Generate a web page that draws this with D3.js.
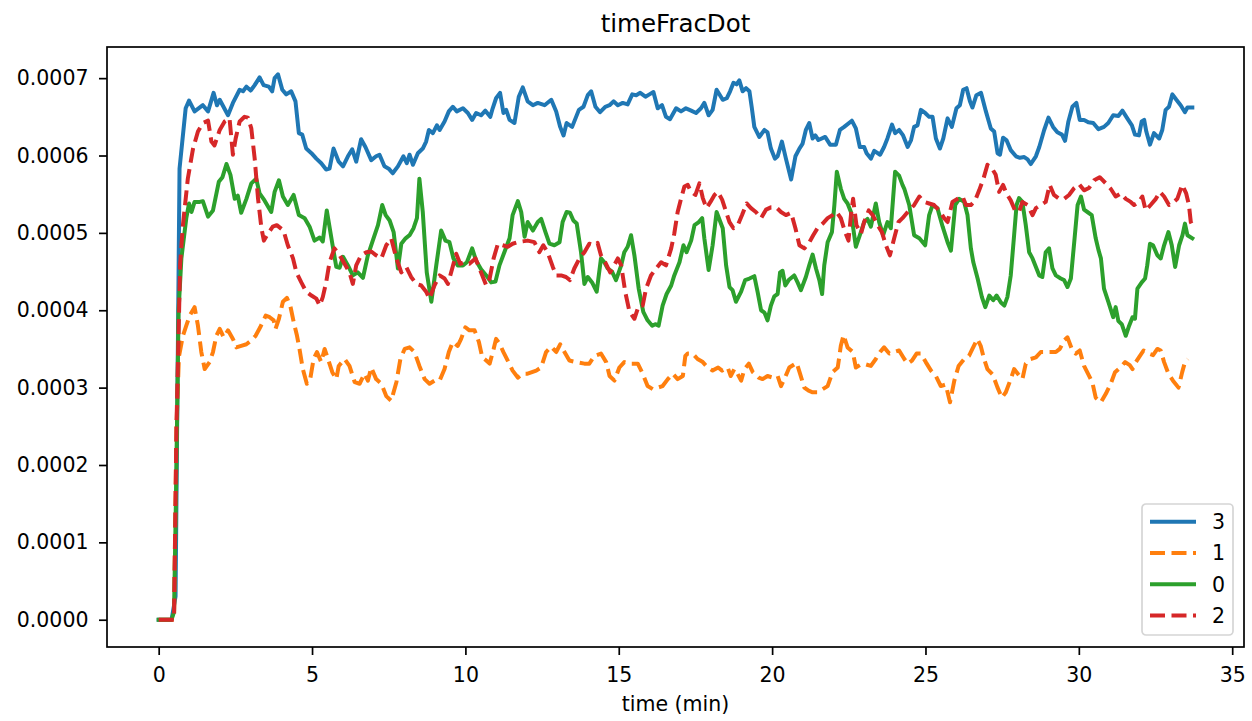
<!DOCTYPE html>
<html>
<head>
<meta charset="utf-8">
<script src="https://cdn.jsdelivr.net/npm/d3@7"></script>
<style>
  body { margin: 0; background: #ffffff; }
  svg { display: block; font-family: "DejaVu Sans", sans-serif; }
</style>
</head>
<body>
<div id="chart"></div>
<script>
// valeurs y en unités de 1e-4, temps en minutes
const UNIT = 1e-4;

const series3 = [[0,0],[0.42,0],[0.55,0.3],[0.68,5.83],[0.88,6.61],[0.99,6.71],[1.17,6.57],[1.44,6.65],[1.61,6.57],[1.79,6.81],[1.9,6.65],[1.99,6.72],[2.26,6.52],[2.42,6.68],[2.64,6.85],[2.75,6.83],[2.86,6.89],[3.0,6.84],[3.13,6.91],[3.29,7.01],[3.42,6.91],[3.59,6.89],[3.7,6.83],[3.78,7.0],[3.89,7.05],[4.03,6.85],[4.16,6.79],[4.32,6.83],[4.46,6.7],[4.57,6.29],[4.68,6.27],[4.81,6.09],[4.98,6.03],[5.14,5.96],[5.3,5.9],[5.46,5.82],[5.57,5.83],[5.7,6.09],[5.87,5.92],[6.01,5.86],[6.17,5.99],[6.31,6.08],[6.44,5.92],[6.6,6.21],[6.74,6.11],[6.93,5.94],[7.09,5.99],[7.2,6.01],[7.36,5.86],[7.5,5.83],[7.63,5.77],[7.8,5.86],[7.98,5.99],[8.09,5.9],[8.18,6.01],[8.29,5.88],[8.45,6.03],[8.61,6.09],[8.72,6.18],[8.81,6.33],[8.94,6.29],[9.07,6.39],[9.16,6.33],[9.32,6.44],[9.46,6.57],[9.59,6.63],[9.72,6.57],[9.92,6.61],[10.08,6.55],[10.22,6.46],[10.35,6.55],[10.51,6.52],[10.65,6.58],[10.81,6.5],[10.89,6.61],[11.0,6.74],[11.13,6.81],[11.24,6.55],[11.33,6.59],[11.44,6.46],[11.6,6.42],[11.74,6.76],[11.87,6.88],[12.03,6.7],[12.2,6.65],[12.36,6.68],[12.58,6.65],[12.8,6.72],[12.96,6.57],[13.09,6.37],[13.2,6.26],[13.3,6.42],[13.48,6.37],[13.7,6.59],[13.85,6.63],[13.99,6.78],[14.1,6.83],[14.24,6.63],[14.39,6.56],[14.56,6.63],[14.7,6.65],[14.83,6.7],[14.97,6.65],[15.13,6.68],[15.29,6.66],[15.44,6.79],[15.57,6.78],[15.7,6.81],[15.87,6.76],[16.0,6.79],[16.13,6.82],[16.27,6.61],[16.41,6.65],[16.54,6.5],[16.67,6.47],[16.87,6.61],[17.03,6.57],[17.19,6.61],[17.36,6.58],[17.52,6.55],[17.68,6.61],[17.79,6.68],[17.93,6.52],[18.06,6.59],[18.19,6.85],[18.39,6.72],[18.52,6.74],[18.63,6.83],[18.74,6.94],[18.84,6.92],[18.93,6.97],[19.04,6.83],[19.15,6.87],[19.26,6.83],[19.34,6.61],[19.42,6.37],[19.58,6.24],[19.75,6.33],[19.85,6.3],[19.96,6.09],[20.09,5.96],[20.18,5.99],[20.32,6.18],[20.45,5.96],[20.62,5.69],[20.76,5.99],[20.89,6.09],[20.99,6.15],[21.1,6.33],[21.21,6.42],[21.32,6.22],[21.41,6.26],[21.51,6.2],[21.73,6.24],[21.89,6.14],[22.08,6.14],[22.21,6.33],[22.35,6.37],[22.6,6.45],[22.73,6.35],[22.86,6.11],[23.0,6.11],[23.08,6.03],[23.22,5.96],[23.33,6.06],[23.52,6.01],[23.65,6.11],[23.76,6.22],[23.91,6.4],[24.01,6.29],[24.14,6.33],[24.27,6.26],[24.42,6.11],[24.53,6.2],[24.63,6.37],[24.74,6.39],[24.85,6.59],[24.99,6.55],[25.12,6.5],[25.23,6.5],[25.34,6.22],[25.47,6.09],[25.58,6.22],[25.72,6.48],[25.86,6.37],[26.01,6.61],[26.12,6.65],[26.23,6.85],[26.34,6.87],[26.45,6.7],[26.53,6.62],[26.66,6.78],[26.81,6.81],[26.97,6.57],[27.13,6.35],[27.24,6.31],[27.35,6.03],[27.43,6.01],[27.53,6.23],[27.64,6.2],[27.78,6.07],[27.95,5.99],[28.08,5.97],[28.22,5.98],[28.33,5.95],[28.43,5.89],[28.6,5.99],[28.71,6.11],[28.87,6.33],[29.01,6.49],[29.16,6.37],[29.3,6.3],[29.45,6.27],[29.55,6.19],[29.66,6.44],[29.79,6.63],[29.92,6.68],[30.03,6.46],[30.17,6.46],[30.31,6.43],[30.47,6.42],[30.64,6.34],[30.82,6.37],[30.96,6.42],[31.12,6.52],[31.29,6.51],[31.42,6.58],[31.58,6.48],[31.73,6.39],[31.83,6.27],[31.96,6.26],[32.05,6.44],[32.13,6.46],[32.2,6.31],[32.32,6.14],[32.45,6.29],[32.62,6.22],[32.72,6.33],[32.83,6.59],[32.94,6.63],[33.05,6.79],[33.18,6.72],[33.32,6.65],[33.46,6.56],[33.54,6.62],[33.7,6.62]];

const series1 = [[0,0],[0.5,0],[0.58,2.5],[0.66,3.4],[0.79,3.67],[0.9,3.8],[1.01,3.93],[1.17,4.04],[1.28,3.8],[1.39,3.46],[1.5,3.24],[1.66,3.33],[1.77,3.46],[1.88,3.67],[1.99,3.76],[2.12,3.65],[2.26,3.74],[2.42,3.63],[2.53,3.52],[2.69,3.54],[2.86,3.56],[3.02,3.61],[3.16,3.67],[3.31,3.78],[3.49,3.93],[3.62,3.91],[3.75,3.87],[3.81,3.76],[3.92,3.89],[4.05,4.11],[4.18,4.16],[4.29,4.06],[4.4,3.85],[4.51,3.67],[4.59,3.5],[4.7,3.24],[4.83,3.05],[4.94,3.11],[5.05,3.37],[5.16,3.46],[5.3,3.33],[5.41,3.5],[5.52,3.37],[5.66,3.2],[5.79,3.11],[5.87,3.28],[6.06,3.37],[6.22,3.28],[6.39,3.07],[6.55,3.05],[6.71,3.18],[6.82,3.09],[6.93,3.26],[7.09,3.11],[7.26,3.05],[7.42,2.89],[7.58,2.83],[7.75,3.07],[7.88,3.37],[8.02,3.5],[8.18,3.52],[8.34,3.46],[8.5,3.28],[8.67,3.11],[8.83,3.05],[8.99,3.09],[9.16,3.09],[9.32,3.24],[9.46,3.46],[9.59,3.59],[9.75,3.54],[9.86,3.63],[10.0,3.78],[10.13,3.74],[10.3,3.74],[10.44,3.59],[10.55,3.39],[10.68,3.35],[10.79,3.31],[10.92,3.5],[11.0,3.63],[11.11,3.57],[11.24,3.46],[11.38,3.35],[11.54,3.22],[11.71,3.13],[11.87,3.18],[12.03,3.18],[12.31,3.22],[12.47,3.26],[12.63,3.46],[12.8,3.53],[12.96,3.46],[13.09,3.56],[13.23,3.46],[13.39,3.35],[13.61,3.33],[13.88,3.31],[14.04,3.31],[14.21,3.41],[14.42,3.44],[14.59,3.33],[14.7,3.15],[14.86,3.09],[15.02,3.26],[15.18,3.33],[15.35,3.31],[15.62,3.31],[15.78,3.18],[15.94,3.02],[16.11,2.98],[16.27,3.0],[16.43,3.02],[16.6,3.11],[16.76,3.18],[16.92,3.11],[17.09,3.15],[17.17,3.41],[17.25,3.44],[17.41,3.44],[17.57,3.37],[17.74,3.33],[17.9,3.26],[18.06,3.22],[18.24,3.26],[18.37,3.22],[18.55,3.26],[18.65,3.15],[18.77,3.24],[18.87,3.18],[18.99,3.09],[19.1,3.24],[19.24,3.31],[19.37,3.2],[19.56,3.13],[19.69,3.11],[19.85,3.15],[20.02,3.13],[20.18,3.15],[20.29,3.02],[20.4,3.11],[20.56,3.26],[20.8,3.32],[20.91,3.18],[21.05,3.0],[21.19,2.96],[21.32,2.94],[21.48,2.94],[21.65,2.98],[21.81,3.02],[21.97,3.2],[22.14,3.26],[22.24,3.54],[22.33,3.68],[22.46,3.52],[22.63,3.46],[22.73,3.26],[22.9,3.3],[23.06,3.3],[23.22,3.28],[23.38,3.37],[23.52,3.46],[23.65,3.52],[23.82,3.44],[23.98,3.46],[24.14,3.48],[24.31,3.37],[24.42,3.31],[24.56,3.35],[24.71,3.44],[24.85,3.44],[25.01,3.33],[25.18,3.22],[25.34,3.15],[25.5,3.02],[25.66,3.04],[25.8,2.81],[25.94,3.09],[26.08,3.28],[26.26,3.37],[26.42,3.41],[26.53,3.5],[26.69,3.63],[26.8,3.54],[26.91,3.37],[27.02,3.24],[27.19,3.17],[27.35,3.0],[27.49,2.87],[27.62,2.94],[27.78,3.11],[27.89,3.24],[28.03,3.17],[28.16,3.11],[28.27,3.31],[28.43,3.37],[28.6,3.39],[28.76,3.46],[28.92,3.46],[29.09,3.46],[29.25,3.46],[29.38,3.5],[29.52,3.61],[29.63,3.65],[29.77,3.5],[29.9,3.44],[30.03,3.48],[30.17,3.28],[30.31,3.17],[30.44,3.07],[30.55,2.87],[30.72,2.81],[30.88,2.92],[31.04,3.05],[31.18,3.2],[31.35,3.26],[31.51,3.33],[31.66,3.29],[31.75,3.24],[31.86,3.33],[31.96,3.39],[32.11,3.48],[32.27,3.44],[32.42,3.42],[32.56,3.5],[32.67,3.48],[32.78,3.33],[32.92,3.18],[33.07,3.09],[33.25,3.0],[33.37,3.2],[33.46,3.33],[33.55,3.37]];

const series0 = [[0,0],[0.42,0],[0.5,0.1],[0.56,1.5],[0.65,4.0],[0.74,4.67],[0.9,5.19],[0.99,5.38],[1.07,5.27],[1.17,5.4],[1.34,5.4],[1.44,5.41],[1.61,5.21],[1.77,5.29],[1.96,5.66],[2.08,5.72],[2.21,5.89],[2.34,5.75],[2.48,5.44],[2.58,5.48],[2.69,5.26],[2.86,5.44],[3.02,5.64],[3.18,5.7],[3.29,5.51],[3.45,5.42],[3.67,5.27],[3.78,5.53],[3.92,5.68],[4.05,5.47],[4.21,5.36],[4.4,5.49],[4.57,5.23],[4.76,5.19],[4.92,5.08],[5.08,4.9],[5.25,4.94],[5.35,4.89],[5.48,5.29],[5.67,4.84],[5.79,4.56],[5.9,4.55],[6.01,4.69],[6.17,4.58],[6.33,4.45],[6.49,4.49],[6.66,4.42],[6.82,4.71],[6.98,4.9],[7.15,5.1],[7.29,5.36],[7.4,5.23],[7.53,5.16],[7.66,5.01],[7.8,4.54],[7.91,4.86],[8.05,4.93],[8.18,4.97],[8.31,5.06],[8.42,5.19],[8.5,5.7],[8.61,5.27],[8.74,4.49],[8.89,4.11],[9.05,4.58],[9.21,5.03],[9.35,4.9],[9.48,4.88],[9.61,4.67],[9.75,4.58],[9.92,4.58],[10.05,4.62],[10.22,4.8],[10.35,4.64],[10.51,4.53],[10.68,4.45],[10.84,4.36],[10.98,4.37],[11.11,4.58],[11.27,4.75],[11.44,4.93],[11.54,5.23],[11.71,5.41],[11.82,5.27],[11.93,4.95],[12.03,5.14],[12.2,5.03],[12.36,5.14],[12.47,5.18],[12.61,5.01],[12.74,4.86],[12.9,4.84],[13.07,4.88],[13.17,5.14],[13.3,5.27],[13.41,5.26],[13.52,5.16],[13.63,5.12],[13.77,4.75],[13.88,4.34],[13.99,4.43],[14.13,4.36],[14.28,4.24],[14.42,4.67],[14.53,4.62],[14.64,4.54],[14.78,4.5],[14.91,4.39],[15.08,4.58],[15.18,4.75],[15.29,4.82],[15.4,4.97],[15.51,4.71],[15.65,4.28],[15.8,3.98],[15.94,3.87],[16.09,3.8],[16.19,3.82],[16.3,3.8],[16.43,4.06],[16.56,4.21],[16.71,4.32],[16.81,4.45],[16.98,4.62],[17.11,4.84],[17.21,4.75],[17.36,4.9],[17.47,5.1],[17.61,5.14],[17.72,5.19],[17.79,4.93],[17.93,4.52],[18.06,4.84],[18.19,5.27],[18.39,5.06],[18.5,4.58],[18.61,4.3],[18.71,4.26],[18.82,4.11],[18.99,4.24],[19.12,4.39],[19.26,4.41],[19.42,4.44],[19.53,4.23],[19.64,4.0],[19.75,3.97],[19.85,3.87],[19.96,4.06],[20.07,4.18],[20.18,4.21],[20.26,4.49],[20.34,4.51],[20.43,4.32],[20.54,4.39],[20.72,4.45],[20.83,4.36],[20.94,4.26],[21.1,4.43],[21.21,4.58],[21.32,4.72],[21.43,4.54],[21.54,4.39],[21.63,4.21],[21.7,4.58],[21.81,4.88],[21.95,5.01],[22.03,5.36],[22.11,5.79],[22.24,5.57],[22.35,5.44],[22.46,5.38],[22.57,5.27],[22.73,4.82],[22.86,4.97],[23.0,5.14],[23.11,5.18],[23.22,5.08],[23.38,5.38],[23.49,5.14],[23.62,4.97],[23.76,5.14],[23.87,5.06],[24.01,5.79],[24.14,5.74],[24.25,5.62],[24.31,5.57],[24.47,5.36],[24.63,4.97],[24.8,4.93],[24.99,4.84],[25.12,5.23],[25.23,5.36],[25.39,5.32],[25.56,5.08],[25.72,4.88],[25.83,4.77],[25.97,5.36],[26.1,5.44],[26.26,5.4],[26.37,5.23],[26.48,4.8],[26.56,4.62],[26.7,4.41],[26.84,4.17],[26.95,4.04],[27.08,4.19],[27.21,4.13],[27.32,4.19],[27.46,4.1],[27.57,4.06],[27.67,4.17],[27.78,4.45],[27.89,4.97],[27.97,5.36],[28.05,5.45],[28.16,5.4],[28.27,5.1],[28.38,4.75],[28.49,4.67],[28.6,4.56],[28.71,4.45],[28.81,4.43],[28.92,4.75],[29.03,4.8],[29.14,4.54],[29.25,4.45],[29.41,4.41],[29.52,4.39],[29.63,4.3],[29.74,4.41],[29.85,4.88],[29.96,5.36],[30.07,5.47],[30.17,5.3],[30.28,5.27],[30.42,5.23],[30.55,4.93],[30.64,4.78],[30.72,4.67],[30.82,4.28],[30.96,4.11],[31.12,3.91],[31.2,4.04],[31.29,3.86],[31.4,3.82],[31.53,3.67],[31.64,3.8],[31.75,3.91],[31.83,3.89],[31.91,4.28],[32.05,4.36],[32.16,4.41],[32.23,4.58],[32.32,4.86],[32.42,4.84],[32.56,4.71],[32.67,4.67],[32.78,4.84],[32.92,5.01],[33.03,4.84],[33.14,4.56],[33.27,4.84],[33.38,4.97],[33.46,5.12],[33.54,4.97],[33.7,4.93]];

const series2 = [[0,0],[0.5,0],[0.58,2.5],[0.7,4.6],[0.79,5.1],[0.95,5.7],[1.12,6.09],[1.28,6.31],[1.44,6.42],[1.61,6.45],[1.72,6.18],[1.82,6.13],[1.99,6.33],[2.15,6.44],[2.31,6.48],[2.42,6.01],[2.51,6.22],[2.64,6.44],[2.8,6.5],[2.91,6.49],[3.02,6.35],[3.13,5.96],[3.24,5.44],[3.35,5.06],[3.43,4.9],[3.56,4.99],[3.72,5.08],[3.85,5.1],[4.07,5.03],[4.21,4.84],[4.38,4.67],[4.49,4.49],[4.65,4.36],[4.81,4.24],[4.98,4.19],[5.14,4.15],[5.25,4.06],[5.35,4.17],[5.46,4.36],[5.57,4.62],[5.73,4.8],[5.9,4.71],[6.06,4.6],[6.22,4.49],[6.33,4.34],[6.44,4.58],[6.6,4.71],[6.77,4.75],[6.93,4.76],[7.09,4.71],[7.26,4.67],[7.42,4.84],[7.58,4.93],[7.75,4.67],[7.91,4.49],[8.07,4.56],[8.23,4.43],[8.4,4.34],[8.56,4.32],[8.72,4.24],[8.83,4.15],[8.99,4.32],[9.16,4.45],[9.32,4.41],[9.43,4.34],[9.57,4.54],[9.7,4.73],[9.83,4.6],[9.97,4.62],[10.13,4.6],[10.33,4.67],[10.46,4.54],[10.68,4.32],[10.79,4.41],[10.92,4.67],[11.06,4.86],[11.22,4.84],[11.38,4.82],[11.54,4.86],[11.71,4.88],[11.87,4.89],[12.03,4.9],[12.25,4.88],[12.41,4.75],[12.54,4.84],[12.68,4.75],[12.85,4.56],[12.96,4.45],[13.12,4.45],[13.28,4.43],[13.41,4.39],[13.55,4.54],[13.72,4.67],[13.88,4.75],[14.04,4.86],[14.21,4.84],[14.31,4.87],[14.42,4.71],[14.56,4.62],[14.72,4.49],[14.85,4.58],[14.97,4.67],[15.08,4.58],[15.21,4.24],[15.35,3.98],[15.51,3.89],[15.65,4.06],[15.78,4.06],[15.89,4.28],[16.05,4.45],[16.22,4.54],[16.38,4.62],[16.54,4.58],[16.71,4.8],[16.81,4.99],[16.92,5.27],[17.03,5.44],[17.14,5.6],[17.25,5.62],[17.36,5.53],[17.5,5.49],[17.63,5.64],[17.74,5.45],[17.86,5.32],[17.99,5.4],[18.12,5.49],[18.23,5.53],[18.37,5.43],[18.5,5.27],[18.61,5.14],[18.74,5.06],[18.88,5.1],[19.02,5.23],[19.17,5.38],[19.31,5.32],[19.47,5.27],[19.64,5.19],[19.8,5.3],[19.96,5.33],[20.13,5.33],[20.29,5.27],[20.45,5.23],[20.62,5.26],[20.76,5.06],[20.89,4.84],[21.05,4.8],[21.19,4.86],[21.34,4.97],[21.48,5.06],[21.65,5.12],[21.81,5.19],[21.97,5.23],[22.1,5.27],[22.24,5.19],[22.38,5.01],[22.49,4.9],[22.57,5.23],[22.64,5.44],[22.75,5.1],[22.9,4.99],[23.0,5.14],[23.15,5.29],[23.28,5.23],[23.44,5.1],[23.58,5.01],[23.71,4.84],[23.84,4.71],[23.98,4.93],[24.12,5.14],[24.25,5.19],[24.42,5.27],[24.63,5.36],[24.8,5.47],[24.96,5.4],[25.12,5.38],[25.28,5.36],[25.45,5.29],[25.61,5.19],[25.72,5.14],[25.88,5.4],[26.04,5.44],[26.21,5.47],[26.32,5.36],[26.48,5.36],[26.62,5.42],[26.75,5.55],[26.89,5.7],[27.02,5.88],[27.16,5.84],[27.29,5.75],[27.4,5.53],[27.53,5.62],[27.64,5.51],[27.78,5.42],[27.92,5.29],[28.05,5.27],[28.16,5.4],[28.33,5.36],[28.49,5.23],[28.6,5.32],[28.76,5.36],[28.92,5.4],[29.05,5.62],[29.19,5.49],[29.36,5.44],[29.52,5.44],[29.68,5.49],[29.85,5.58],[30.01,5.63],[30.17,5.55],[30.33,5.58],[30.5,5.68],[30.68,5.72],[30.88,5.64],[31.04,5.57],[31.2,5.47],[31.37,5.51],[31.53,5.44],[31.69,5.4],[31.8,5.36],[31.96,5.4],[32.07,5.47],[32.18,5.29],[32.34,5.36],[32.51,5.44],[32.64,5.53],[32.78,5.47],[32.94,5.36],[33.1,5.4],[33.21,5.44],[33.37,5.62],[33.5,5.51],[33.59,5.36],[33.65,5.14],[33.7,5.1]];

// ordre de tracé = ordre de la légende
const seriesNames = ["3", "1", "0", "2"];
const seriesData = [series3, series1, series0, series2];
const seriesColors = ["#1f77b4", "#ff7f0e", "#2ca02c", "#d62728"];
const seriesDashed = [false, true, false, true];

const xTicks = [0, 5, 10, 15, 20, 25, 30, 35];
const yTicks = [0, 0.0001, 0.0002, 0.0003, 0.0004, 0.0005, 0.0006, 0.0007];

const graphCfg = {
  target: "#chart",
  title: "timeFracDot",
  xLabel: "time (min)",
  width: 1252,
  height: 721,
  margin: { top: 47, right: 8, bottom: 74, left: 107 },
  fontSize: 20.5,
  lineWidth: 4,
  dash: "15,6.5",
}

//---------------------------------------------------------------------------------------

// Création du canevas SVG

const width = graphCfg.width;
const height = graphCfg.height;
const m = graphCfg.margin;

const svg = d3
  .select(graphCfg.target)
  .append("svg")
  .attr("width", width)
  .attr("height", height)
  .attr("viewBox", [0, 0, width, height]);

svg.append("rect")
  .attr("width", width)
  .attr("height", height)
  .attr("fill", "#ffffff");

//---------------------------------------------------------------------------------------

// Échelles (marges de 5 % comme matplotlib)

const allPts = seriesData.flat();
const xExt = d3.extent(allPts, d => d[0]);
const yExt = d3.extent(allPts, d => d[1] * UNIT);
const xPad = (xExt[1] - xExt[0]) * 0.05;
const yPad = (yExt[1] - yExt[0]) * 0.05;

const x = d3.scaleLinear()
  .domain([xExt[0] - xPad, xExt[1] + xPad])
  .range([m.left, width - m.right]);

const y = d3.scaleLinear()
  .domain([yExt[0] - yPad, yExt[1] + yPad])
  .range([height - m.bottom, m.top]);

//---------------------------------------------------------------------------------------

// Axes

const xAxis = svg.append("g")
  .attr("transform", `translate(0, ${height - m.bottom})`)
  .call(d3.axisBottom(x).tickValues(xTicks).tickFormat(d3.format("d")).tickSize(8).tickSizeOuter(0).tickPadding(12.5));

const yAxis = svg.append("g")
  .attr("transform", `translate(${m.left}, 0)`)
  .call(d3.axisLeft(y).tickValues(yTicks).tickFormat(d3.format(".4f")).tickSize(8).tickSizeOuter(0).tickPadding(10.5));

[xAxis, yAxis].forEach(g => {
  g.select(".domain").remove();
  g.selectAll(".tick line").attr("stroke", "#000").attr("stroke-width", 1.7);
  g.selectAll(".tick text")
    .attr("fill", "#000")
    .style("font-family", "'DejaVu Sans', sans-serif")
    .style("font-size", `${graphCfg.fontSize}px`);
});

//---------------------------------------------------------------------------------------

// Courbes

const plot = svg.append("g");

const line = d3.line()
  .x(d => x(d[0]))
  .y(d => y(d[1] * UNIT));

seriesData.forEach((data, i) => {
  plot.append("path")
    .datum(data)
    .attr("d", line)
    .attr("fill", "none")
    .attr("stroke", seriesColors[i])
    .attr("stroke-width", graphCfg.lineWidth)
    .attr("stroke-linejoin", "round")
    .attr("stroke-linecap", seriesDashed[i] ? "butt" : "square")
    .attr("stroke-dasharray", seriesDashed[i] ? graphCfg.dash : null);
});

// Cadre du graphique
svg.append("rect")
  .attr("x", m.left)
  .attr("y", m.top)
  .attr("width", width - m.left - m.right)
  .attr("height", height - m.top - m.bottom)
  .attr("fill", "none")
  .attr("stroke", "#000")
  .attr("stroke-width", 1.7);

//---------------------------------------------------------------------------------------

// Titraille

svg.append("text")
  .attr("x", (m.left + width - m.right) / 2)
  .attr("y", 32)
  .attr("text-anchor", "middle")
  .style("font-size", "24.5px")
  .text(graphCfg.title);

svg.append("text")
  .attr("x", (m.left + width - m.right) / 2)
  .attr("y", 711)
  .attr("text-anchor", "middle")
  .style("font-size", `${graphCfg.fontSize}px`)
  .text(graphCfg.xLabel);

//---------------------------------------------------------------------------------------

// Légende

const legend = svg.append("g").attr("transform", "translate(1142, 504)");

legend.append("rect")
  .attr("width", 91)
  .attr("height", 131)
  .attr("rx", 4)
  .attr("fill", "#ffffff")
  .attr("fill-opacity", 0.8)
  .attr("stroke", "#d5d5d5")
  .attr("stroke-width", 1.7);

seriesNames.forEach((name, i) => {
  const row = legend.append("g").attr("transform", `translate(0, ${17.7 + i * 31.3})`);
  row.append("line")
    .attr("x1", 8)
    .attr("x2", 54)
    .attr("stroke", seriesColors[i])
    .attr("stroke-width", graphCfg.lineWidth)
    .attr("stroke-dasharray", seriesDashed[i] ? graphCfg.dash : null);
  row.append("text")
    .attr("x", 70)
    .attr("dy", "0.36em")
    .style("font-size", `${graphCfg.fontSize}px`)
    .text(name);
});
</script>
</body>
</html>
